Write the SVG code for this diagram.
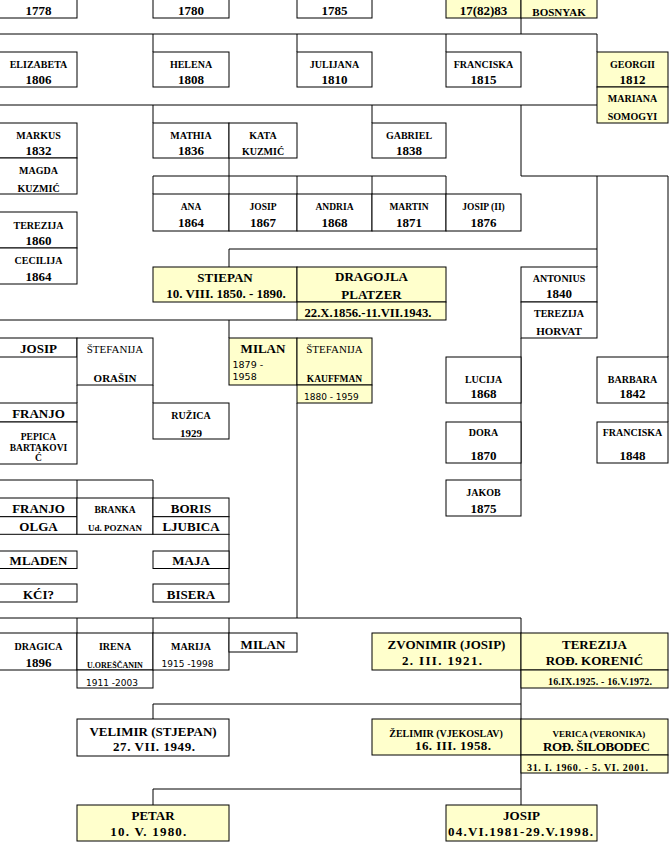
<svg xmlns="http://www.w3.org/2000/svg" width="671" height="844" viewBox="0 0 671 844">
<style>
rect{stroke:#000;stroke-width:1;fill:#fff}
rect.y{fill:#ffffcc}
.c path{stroke:#000;stroke-width:1;fill:none}
text{font-family:"Liberation Serif","Times New Roman",serif;font-weight:bold;text-anchor:middle;fill:#000}
.r{font-weight:normal}
.d{font-family:"DejaVu Sans",Verdana,sans-serif;font-weight:normal;text-anchor:start;font-size:9px}
.s8{font-size:8px}.s9{font-size:9px}.s95{font-size:9.5px}.s10{font-size:10px}.s11{font-size:11px}.s12{font-size:12px}.s13{font-size:13px}
</style>
<rect x="0" y="0" width="671" height="844" style="stroke:none;fill:#fff"/>
<g class="c" id="connectors">
<path d="M521,18V34M0,34H597M153,34V52M297,34V52M446,34V52M597,34V52"/>
<path d="M0,105H597M153,105V123M372,105V123M521,105V176"/>
<path d="M229,158V176M153,176H446M521,176H668M153,176V194M229,176V194M297,176V194M372,176V194M446,176V194"/>
<path d="M597,176V267M668,176V357M229,249H597M229,249V267"/>
<path d="M0,320H297M229,320V338M77,385V403M153,385V403M297,403V618"/>
<path d="M521,338V480M668,403V422"/>
<path d="M0,480H153M77,480V498M153,480V498M229,534V584"/>
<path d="M0,618H521M77,618V633M153,618V633M229,618V633M521,618V805"/>
<path d="M153,704H521M153,704V719M153,789H521M153,789V805"/>
</g>
<g id="n1778"><rect x="-1" y="-1" width="78" height="19"/><text class="s13" x="38.5" y="15">1778</text></g>
<g id="n1780"><rect x="153" y="-1" width="76" height="19"/><text class="s13" x="191" y="15">1780</text></g>
<g id="n1785"><rect x="297" y="-1" width="75" height="19"/><text class="s13" x="334.5" y="15">1785</text></g>
<g id="n1783"><rect class="y" x="446" y="-1" width="75" height="19"/><text class="s13" x="483.5" y="15">17(82)83</text></g>
<g id="bosnyak"><rect class="y" x="521" y="-1" width="76" height="19"/><text class="s11" x="559" y="15.5">BOSNYAK</text></g>

<g id="elizabeta"><rect x="-1" y="52" width="78" height="35"/><text class="s10" x="38.5" y="67.5">ELIZABETA</text><text class="s13" x="38.5" y="83.5">1806</text></g>
<g id="helena"><rect x="153" y="52" width="76" height="35"/><text class="s10" x="191" y="67.5">HELENA</text><text class="s13" x="191" y="83.5">1808</text></g>
<g id="julijana"><rect x="297" y="52" width="75" height="35"/><text class="s10" x="334.5" y="67.5">JULIJANA</text><text class="s13" x="334.5" y="83.5">1810</text></g>
<g id="franciska1815"><rect x="446" y="52" width="75" height="35"/><text class="s10" x="483.5" y="67.5">FRANCISKA</text><text class="s13" x="483.5" y="83.5">1815</text></g>
<g id="georgii"><rect class="y" x="597" y="52" width="71" height="35"/><text class="s10" x="632.5" y="67.5">GEORGII</text><text class="s13" x="632.5" y="83.5">1812</text></g>
<g id="mariana"><rect class="y" x="597" y="87" width="71" height="36"/><text class="s10" x="632.5" y="102">MARIANA</text><text class="s10" x="632.5" y="120">SOMOGYI</text></g>

<g id="markus"><rect x="-1" y="123" width="78" height="35"/><text class="s10" x="38.5" y="139">MARKUS</text><text class="s13" x="38.5" y="155">1832</text></g>
<g id="magda"><rect x="-1" y="158" width="78" height="36"/><text class="s10" x="38.5" y="174">MAGDA</text><text class="s10" x="38.5" y="192">KUZMIĆ</text></g>
<g id="mathia"><rect x="153" y="123" width="76" height="35"/><text class="s10" x="191" y="139">MATHIA</text><text class="s13" x="191" y="155">1836</text></g>
<g id="kata"><rect x="229" y="123" width="68" height="35"/><text class="s10" x="263" y="139">KATA</text><text class="s10" x="263" y="155">KUZMIĆ</text></g>
<g id="gabriel"><rect x="372" y="123" width="74" height="35"/><text class="s10" x="409" y="139">GABRIEL</text><text class="s13" x="409" y="155">1838</text></g>

<g id="ana"><rect x="153" y="194" width="76" height="37"/><text class="s95" x="191" y="210">ANA</text><text class="s13" x="191" y="226.5">1864</text></g>
<g id="josip1867"><rect x="229" y="194" width="68" height="37"/><text class="s95" x="263" y="210">JOSIP</text><text class="s13" x="263" y="226.5">1867</text></g>
<g id="andria"><rect x="297" y="194" width="75" height="37"/><text class="s95" x="334.5" y="210">ANDRIA</text><text class="s13" x="334.5" y="226.5">1868</text></g>
<g id="martin"><rect x="372" y="194" width="74" height="37"/><text class="s95" x="409" y="210">MARTIN</text><text class="s13" x="409" y="226.5">1871</text></g>
<g id="josip2"><rect x="446" y="194" width="75" height="37"/><text class="s95" x="483.5" y="210">JOSIP (II)</text><text class="s13" x="483.5" y="226.5">1876</text></g>

<g id="terezija1860"><rect x="-1" y="212" width="78" height="36"/><text class="s10" x="38.5" y="228.5">TEREZIJA</text><text class="s13" x="38.5" y="245">1860</text></g>
<g id="cecilija"><rect x="-1" y="248" width="78" height="36"/><text class="s10" x="38.5" y="264">CECILIJA</text><text class="s13" x="38.5" y="280.5">1864</text></g>

<g id="stiepan"><rect class="y" x="153" y="267" width="144" height="35"/><text class="s13" x="225" y="281.5">STIEPAN</text><text class="s13" x="226" y="297.5">10. VIII. 1850. - 1890.</text></g>
<g id="dragojla"><rect class="y" x="297" y="267" width="149" height="35"/><rect class="y" x="297" y="302" width="149" height="18"/><text class="s13" x="371.5" y="281">DRAGOJLA</text><text class="s13" x="371.5" y="298.5">PLATZER</text><text class="s12" x="368" y="316.5" textLength="127" lengthAdjust="spacingAndGlyphs">22.X.1856.-11.VII.1943.</text></g>
<g id="antonius"><rect x="521" y="267" width="76" height="35"/><rect x="521" y="302" width="76" height="36"/><text class="s10" x="559" y="281.5">ANTONIUS</text><text class="s13" x="559" y="298.3">1840</text><text class="s10" x="559" y="317.3">TEREZIJA</text><text class="s11" x="559" y="335">HORVAT</text></g>

<g id="josip"><rect x="-1" y="338" width="78" height="19"/><text class="s13" x="38.5" y="353">JOSIP</text></g>
<g id="stefanija-orasin"><rect x="77" y="338" width="76" height="47"/><text class="s11 r" x="115" y="353">ŠTEFANIJA</text><text class="s11" x="115" y="382">ORAŠIN</text></g>
<g id="milan"><rect class="y" x="229" y="338" width="68" height="47"/><text class="s13" x="263" y="352.7">MILAN</text><text class="d" style="font-size:9.5px" x="232.5" y="368">1879 -</text><text class="d" style="font-size:9.5px" x="232.5" y="380">1958</text></g>
<g id="stefanija-kauffman"><rect class="y" x="297" y="338" width="75" height="47"/><rect class="y" x="297" y="385" width="75" height="18"/><text class="s11 r" x="334.5" y="353">ŠTEFANIJA</text><text class="s95" x="334.5" y="382">KAUFFMAN</text><text class="d" x="304" y="399.5">1880 - 1959</text></g>
<g id="lucija"><rect x="446" y="357" width="75" height="46"/><text class="s10" x="483.5" y="382.7">LUCIJA</text><text class="s13" x="483.5" y="398.3">1868</text></g>
<g id="barbara"><rect x="597" y="357" width="71" height="46"/><text class="s10" x="632.5" y="382.7">BARBARA</text><text class="s13" x="632.5" y="398.3">1842</text></g>

<g id="franjo"><rect x="-1" y="403" width="78" height="19"/><text class="s13" x="38.5" y="418.3">FRANJO</text></g>
<g id="pepica"><rect x="-1" y="422" width="78" height="42"/><text class="s95" x="38.5" y="440">PEPICA</text><text class="s95" x="38.5" y="450.5">BARTAKOVI</text><text class="s95" x="38.5" y="461">Ć</text></g>
<g id="ruzica"><rect x="153" y="403" width="76" height="36"/><text class="s10" x="191" y="419">RUŽICA</text><text class="s11" x="191" y="436.5">1929</text></g>
<g id="dora"><rect x="446" y="422" width="75" height="41"/><text class="s10" x="483.5" y="436">DORA</text><text class="s13" x="483.5" y="460">1870</text></g>
<g id="franciska1848"><rect x="597" y="422" width="71" height="41"/><text class="s10" x="632.5" y="436">FRANCISKA</text><text class="s13" x="632.5" y="460">1848</text></g>
<g id="jakob"><rect x="446" y="480" width="75" height="36"/><text class="s10" x="483.5" y="495.7">JAKOB</text><text class="s13" x="483.5" y="512.7">1875</text></g>

<g id="franjo2"><rect x="-1" y="498" width="78" height="18.7"/><rect x="-1" y="516.7" width="78" height="17.6"/><text class="s13" x="38.5" y="513.3">FRANJO</text><text class="s13" x="38.5" y="531">OLGA</text></g>
<g id="branka"><rect x="77" y="498" width="76" height="36.3"/><text class="s95" x="115" y="513.3">BRANKA</text><text class="s9" x="115" y="531">Ud. POZNAN</text></g>
<g id="boris"><rect x="153" y="498" width="76" height="18.7"/><rect x="153" y="516.7" width="76" height="17.6"/><text class="s13" x="191" y="513.3">BORIS</text><text class="s13" x="191" y="531">LJUBICA</text></g>
<g id="mladen"><rect x="-1" y="551" width="78" height="17.5"/><text class="s13" x="38.5" y="565">MLADEN</text></g>
<g id="maja"><rect x="153" y="551" width="76" height="17.5"/><text class="s13" x="191" y="565">MAJA</text></g>
<g id="kci"><rect x="-1" y="584" width="78" height="18"/><text class="s13" x="38.5" y="599">KĆI?</text></g>
<g id="bisera"><rect x="153" y="584" width="76" height="18"/><text class="s13" x="191" y="599">BISERA</text></g>

<g id="dragica"><rect x="-1" y="633" width="78" height="37"/><text class="s10" x="38.5" y="650">DRAGICA</text><text class="s13" x="38.5" y="666.5">1896</text></g>
<g id="irena"><rect x="77" y="633" width="76" height="37"/><rect x="77" y="670" width="76" height="18"/><text class="s10" x="115" y="650">IRENA</text><text class="s8" x="115" y="668">U.OREŠČANIN</text><text class="d" x="86" y="685.5">1911 -2003</text></g>
<g id="marija"><rect x="153" y="633" width="76" height="37"/><text class="s10" x="191" y="650">MARIJA</text><text class="d" x="161.5" y="666.5">1915 -1998</text></g>
<g id="milan2"><rect x="229" y="633" width="68" height="19"/><text class="s13" x="263" y="648.5">MILAN</text></g>
<g id="zvonimir"><rect class="y" x="372" y="633" width="149" height="37"/><text class="s13" x="446.5" y="649">ZVONIMIR (JOSIP)</text><text class="s13" x="442" y="665" textLength="80" lengthAdjust="spacing">2. III. 1921.</text></g>
<g id="terezija-korenic"><rect class="y" x="521" y="633" width="147" height="37"/><rect class="y" x="521" y="670" width="147" height="18"/><text class="s13" x="594.5" y="649">TEREZIJA</text><text class="s13" x="594.5" y="665">ROĐ. KORENIĆ</text><text class="s10" x="600" y="685" textLength="104" lengthAdjust="spacing">16.IX.1925. - 16.V.1972.</text></g>

<g id="velimir"><rect x="77" y="719" width="152" height="37"/><text class="s13" x="153" y="736">VELIMIR (STJEPAN)</text><text class="s13" x="154" y="750.5" textLength="82" lengthAdjust="spacing">27. VII. 1949.</text></g>
<g id="zelimir"><rect class="y" x="372" y="719" width="149" height="36"/><text class="s10" x="446" y="736.5">ŽELIMIR (VJEKOSLAV)</text><text class="s13" x="453" y="750" textLength="76" lengthAdjust="spacing">16. III. 1958.</text></g>
<g id="verica"><rect class="y" x="521" y="719" width="147" height="36"/><rect class="y" x="521" y="755" width="147" height="18"/><text class="s9" x="599" y="736.5">VERICA (VERONIKA)</text><text class="s13" x="596.5" y="750.5" textLength="107" lengthAdjust="spacing">ROĐ. ŠILOBODEC</text><text class="s10" x="587.5" y="770.5" textLength="121" lengthAdjust="spacing">31. I. 1960. - 5. VI. 2001.</text></g>

<g id="petar"><rect class="y" x="77" y="805" width="152" height="36"/><text class="s13" x="153" y="820">PETAR</text><text class="s13" x="148.3" y="836" textLength="76" lengthAdjust="spacing">10. V. 1980.</text></g>
<g id="josip-final"><rect class="y" x="446" y="805" width="151" height="36"/><text class="s13" x="521.5" y="820">JOSIP</text><text class="s13" x="520.5" y="836" textLength="145" lengthAdjust="spacing">04.VI.1981-29.V.1998.</text></g>
</svg>
